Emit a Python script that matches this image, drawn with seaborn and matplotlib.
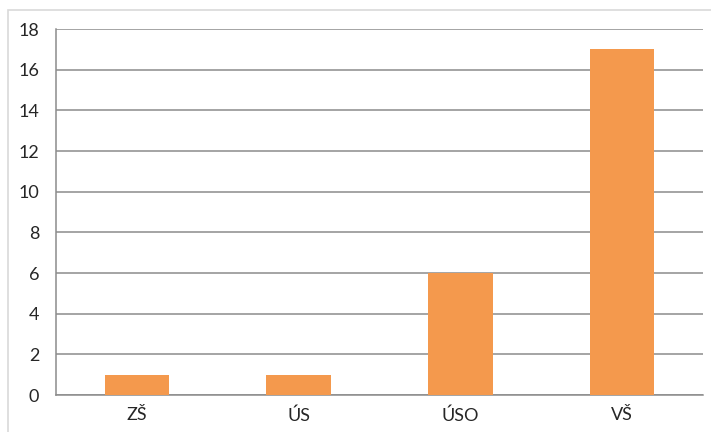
import matplotlib
matplotlib.use("Agg")
import matplotlib.pyplot as plt
import matplotlib.patches as patches
import seaborn as sns
import pandas as pd

# data
kategorie = ["ZŠ", "ÚS", "ÚSO", "VŠ"]
pocty = [1, 1, 6, 17]
y_ticks = [0, 2, 4, 6, 8, 10, 12, 14, 16, 18]

df = pd.DataFrame({"kat": kategorie, "pocet": pocty})

sns.set_style("white")
plt.rcParams['font.family'] = ['Lato', 'DejaVu Sans']

fig = plt.figure(figsize=(7.11, 4.32), dpi=100)
ax = fig.add_axes([56/711, 1 - 395/432, (703 - 56)/711, (395 - 29)/432])

# svetly ramecek kolem grafu
fig.patches.append(patches.Rectangle((8/711, -0.05), 1.1, 1 - 10/432 + 0.05,
                                     transform=fig.transFigure, fill=False,
                                     edgecolor="#d9d9d9", linewidth=1.2, zorder=0))

sns.barplot(data=df, x="kat", y="pocet", color="#f4994d", width=0.4,
            saturation=1, linewidth=0, ax=ax, zorder=3)

ax.set_xlim(-0.5, 3.5)
ax.set_ylim(0, 18)
ax.set_yticks(y_ticks)
ax.yaxis.grid(True, color="#8c8c8c", linewidth=1.1, zorder=0)
ax.set_axisbelow(True)

# hranice kategorii jako vedlejsi ticky
ax.set_xticks([-0.5, 0.5, 1.5, 2.5, 3.5], minor=True)
ax.tick_params(axis="x", which="major", length=0, pad=9, labelsize=13)
ax.tick_params(axis="x", which="minor", length=8, width=1.1, color="#8c8c8c", direction="out")
ax.tick_params(axis="y", length=8, width=1.1, color="#8c8c8c", direction="out", pad=4, labelsize=13)

for s in ["top", "right"]:
    ax.spines[s].set_visible(False)
for s in ["left", "bottom"]:
    ax.spines[s].set_color("#8c8c8c")
    ax.spines[s].set_linewidth(1.1)

ax.set_xlabel("")
ax.set_ylabel("")

fig.savefig("out.png", dpi=100)
